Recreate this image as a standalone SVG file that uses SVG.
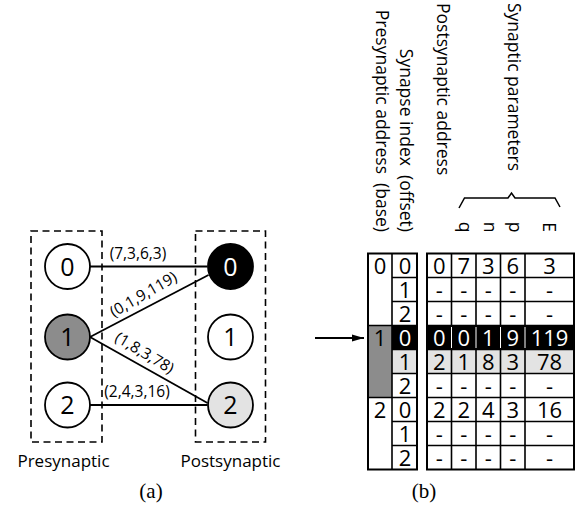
<svg xmlns="http://www.w3.org/2000/svg" width="581" height="512" viewBox="0 0 581 512">
<style>
  .sans { font-family: "Open Sans", "DejaVu Sans", sans-serif; fill: #000; }
  .node circle { stroke: #000; stroke-width: 1.8; }
  .node text { font-family: "Open Sans", sans-serif; font-size: 25px; text-anchor: middle; }
  .box { fill: none; stroke: #000; stroke-width: 1.6; stroke-dasharray: 7 4.5; }
  .edge { stroke: #000; stroke-width: 1.8; fill: none; }
  .elabel { font-family: "Open Sans", sans-serif; font-size: 15.5px; text-anchor: middle; }
  .cap { font-family: "Open Sans", sans-serif; font-size: 17px; text-anchor: middle; }
  .sub { font-family: "Liberation Serif", serif; font-size: 21px; text-anchor: middle; }
  .hdr { font-family: "Open Sans", sans-serif; font-size: 17.5px; }
  .grid { stroke: #000; stroke-width: 1.6; fill: none; }
  .outer { stroke: #000; stroke-width: 2; fill: none; }
  .cell { font-family: "Open Sans", sans-serif; font-size: 22px; text-anchor: middle; }
  .w { fill: #fff; }
</style>
<defs>
  <marker id="arr" markerWidth="12" markerHeight="8" refX="12" refY="4" orient="auto" markerUnits="userSpaceOnUse">
    <path d="M0,0.5 L12,4 L0,7.5 Z" fill="#000"/>
  </marker>
</defs>

<!-- Part (a) -->
<g id="presynaptic-group">
  <rect class="box" x="31" y="231" width="71" height="211"/>
  <text class="cap" x="63.5" y="467">Presynaptic</text>
</g>
<g id="postsynaptic-group">
  <rect class="box" x="195.5" y="231" width="70" height="211"/>
  <text class="cap" x="230.5" y="467">Postsynaptic</text>
</g>

<g id="connectors">
  <line class="edge" x1="90" y1="266.5" x2="207.5" y2="266.5"/>
  <line class="edge" x1="90" y1="337" x2="208.5" y2="275"/>
  <line class="edge" x1="90" y1="337" x2="207.5" y2="403"/>
  <line class="edge" x1="90" y1="405" x2="207.5" y2="405"/>
  <text class="elabel" x="138" y="259">(7,3,6,3)</text>
  <text class="elabel" transform="translate(143.5,294.5) rotate(-30)" y="5">(0,1,9,119)</text>
  <text class="elabel" transform="translate(144.5,353) rotate(31)" y="5">(1,8,3,78)</text>
  <text class="elabel" x="137" y="397">(2,4,3,16)</text>
  <line class="edge" x1="315" y1="338" x2="364" y2="338" stroke-width="1.6" marker-end="url(#arr)"/>
</g>

<g id="pre0" class="node"><circle cx="67.5" cy="266.5" r="22.5" fill="#fff"/><text x="67.5" y="275.5">0</text></g>
<g id="pre1" class="node"><circle cx="67.5" cy="337" r="22.5" fill="#8c8c8c"/><text x="67.5" y="346">1</text></g>
<g id="pre2" class="node"><circle cx="67.5" cy="405" r="22.5" fill="#fff"/><text x="67.5" y="414">2</text></g>
<g id="post0" class="node"><circle cx="230.5" cy="266.5" r="22.5" fill="#000"/><text x="230.5" y="275.5" fill="#fff">0</text></g>
<g id="post1" class="node"><circle cx="230.5" cy="337" r="22.5" fill="#fff"/><text x="230.5" y="346">1</text></g>
<g id="post2" class="node"><circle cx="230.5" cy="405" r="22.5" fill="#e3e3e3"/><text x="230.5" y="414">2</text></g>

<text class="sub" x="151" y="498">(a)</text>

<!-- Part (b) headers -->
<g id="headers" class="hdr">
  <text xml:space="preserve" transform="translate(376,232) rotate(90)" text-anchor="end">Presynaptic address  (base)</text>
  <text xml:space="preserve" transform="translate(400,232) rotate(90)" text-anchor="end">Synapse index  (offset)</text>
  <text transform="translate(437,3) rotate(90)" text-anchor="start">Postsynaptic address</text>
  <text transform="translate(508,3) rotate(90)" text-anchor="start">Synaptic parameters</text>
  <path d="M459,208 L464.5,198 L508,198 L511.5,193 L515,198 L555,198 L560,207" fill="none" stroke="#000" stroke-width="1.5"/>
  <text transform="translate(459,227) rotate(90)" text-anchor="middle">q</text>
  <text transform="translate(484,227) rotate(90)" text-anchor="middle">n</text>
  <text transform="translate(508.5,227) rotate(90)" text-anchor="middle">p</text>
  <text transform="translate(543,227) rotate(90)" text-anchor="middle">E</text>
</g>

<!-- Part (b) table -->
<g id="index-table">
  <rect x="368" y="325.5" width="24" height="72" fill="#8c8c8c"/>
  <rect x="392" y="325.5" width="25" height="24" fill="#000"/>
  <rect x="392" y="349.5" width="25" height="24" fill="#e3e3e3"/>
  <path class="grid" d="M392,253.5 V469.5 M368,325.5 H417 M368,397.5 H417 M392,277.5 H417 M392,301.5 H417 M392,349.5 H417 M392,373.5 H417 M392,421.5 H417 M392,445.5 H417"/>
  <rect class="outer" x="368" y="253.5" width="49" height="216"/>
  <g class="cell">
    <text x="380" y="273.5">0</text>
    <text x="380" y="345.5">1</text>
    <text x="380" y="417.5">2</text>
    <text x="405" y="273.5">0</text>
    <text x="405" y="297.5">1</text>
    <text x="405" y="321.5">2</text>
    <text x="405" y="345.5" class="w">0</text>
    <text x="405" y="369.5">1</text>
    <text x="405" y="393.5">2</text>
    <text x="405" y="417.5">0</text>
    <text x="405" y="441.5">1</text>
    <text x="405" y="465.5">2</text>
  </g>
</g>

<g id="param-table">
  <rect x="427" y="325.5" width="147" height="24" fill="#000"/>
  <rect x="427" y="349.5" width="147" height="24" fill="#e3e3e3"/>
  <path class="grid" d="M451.5,253.5 V469.5 M476,253.5 V469.5 M500.5,253.5 V469.5 M525,253.5 V469.5 M427,277.5 H574 M427,301.5 H574 M427,325.5 H574 M427,349.5 H574 M427,373.5 H574 M427,397.5 H574 M427,421.5 H574 M427,445.5 H574"/>
  <path d="M451.5,327 V348 M476,327 V348 M500.5,327 V348 M525,327 V348" stroke="#fff" stroke-width="1"/>
  <rect class="outer" x="427" y="253.5" width="147" height="216"/>
  <g class="cell">
    <text x="439.3" y="273.5">0</text><text x="463.8" y="273.5">7</text><text x="488.3" y="273.5">3</text><text x="512.8" y="273.5">6</text><text x="549.5" y="273.5">3</text>
    <text x="439.3" y="297.5">-</text><text x="463.8" y="297.5">-</text><text x="488.3" y="297.5">-</text><text x="512.8" y="297.5">-</text><text x="549.5" y="297.5">-</text>
    <text x="439.3" y="321.5">-</text><text x="463.8" y="321.5">-</text><text x="488.3" y="321.5">-</text><text x="512.8" y="321.5">-</text><text x="549.5" y="321.5">-</text>
    <g class="w"><text x="439.3" y="345.5">0</text><text x="463.8" y="345.5">0</text><text x="488.3" y="345.5">1</text><text x="512.8" y="345.5">9</text><text x="549.5" y="345.5">119</text></g>
    <text x="439.3" y="369.5">2</text><text x="463.8" y="369.5">1</text><text x="488.3" y="369.5">8</text><text x="512.8" y="369.5">3</text><text x="549.5" y="369.5">78</text>
    <text x="439.3" y="393.5">-</text><text x="463.8" y="393.5">-</text><text x="488.3" y="393.5">-</text><text x="512.8" y="393.5">-</text><text x="549.5" y="393.5">-</text>
    <text x="439.3" y="417.5">2</text><text x="463.8" y="417.5">2</text><text x="488.3" y="417.5">4</text><text x="512.8" y="417.5">3</text><text x="549.5" y="417.5">16</text>
    <text x="439.3" y="441.5">-</text><text x="463.8" y="441.5">-</text><text x="488.3" y="441.5">-</text><text x="512.8" y="441.5">-</text><text x="549.5" y="441.5">-</text>
    <text x="439.3" y="465.5">-</text><text x="463.8" y="465.5">-</text><text x="488.3" y="465.5">-</text><text x="512.8" y="465.5">-</text><text x="549.5" y="465.5">-</text>
  </g>
</g>

<text class="sub" x="424" y="498">(b)</text>
</svg>
